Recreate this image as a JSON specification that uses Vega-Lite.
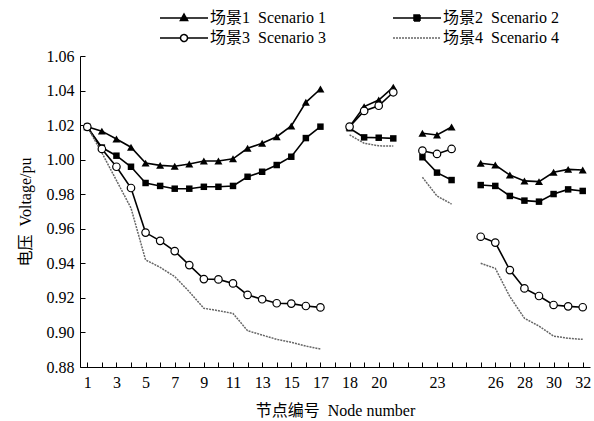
{
  "$schema": "https://vega.github.io/schema/vega-lite/v6.json",
  "width": 510,
  "height": 311,
  "autosize": {"type": "none"},
  "padding": {"left": 80, "top": 56, "right": 4, "bottom": 54},
  "background": "white",
  "config": {
    "view": {"stroke": null},
    "font": "Liberation Serif, DejaVu Serif, Noto Sans CJK SC, serif",
    "axis": {
      "grid": false,
      "domainColor": "black",
      "domainWidth": 1,
      "tickColor": "black",
      "tickWidth": 1,
      "tickSize": -5,
      "labelFont": "Liberation Serif, DejaVu Serif, Noto Sans CJK SC, serif",
      "labelFontSize": 16,
      "labelColor": "black",
      "labelOverlap": false,
      "titleFont": "Liberation Serif, DejaVu Serif, Noto Sans CJK SC, serif",
      "titleFontSize": 16,
      "titleFontWeight": "normal",
      "titleColor": "black"
    }
  },
  "data": {
    "values": [
      {"s": 1, "n": "1", "b": 1, "v": 1.019},
      {"s": 1, "n": "2", "b": 1, "v": 1.0165},
      {"s": 1, "n": "3", "b": 1, "v": 1.012},
      {"s": 1, "n": "4", "b": 1, "v": 1.0072},
      {"s": 1, "n": "5", "b": 1, "v": 0.998},
      {"s": 1, "n": "6", "b": 1, "v": 0.9967},
      {"s": 1, "n": "7", "b": 1, "v": 0.9962},
      {"s": 1, "n": "8", "b": 1, "v": 0.9975},
      {"s": 1, "n": "9", "b": 1, "v": 0.9992},
      {"s": 1, "n": "10", "b": 1, "v": 0.9992},
      {"s": 1, "n": "11", "b": 1, "v": 1.0005},
      {"s": 1, "n": "12", "b": 1, "v": 1.0066},
      {"s": 1, "n": "13", "b": 1, "v": 1.0095},
      {"s": 1, "n": "14", "b": 1, "v": 1.0133},
      {"s": 1, "n": "15", "b": 1, "v": 1.0195},
      {"s": 1, "n": "16", "b": 1, "v": 1.0332},
      {"s": 1, "n": "17", "b": 1, "v": 1.0409},
      {"s": 1, "n": "18", "b": 2, "v": 1.019},
      {"s": 1, "n": "19", "b": 2, "v": 1.0307},
      {"s": 1, "n": "20", "b": 2, "v": 1.0345},
      {"s": 1, "n": "21", "b": 2, "v": 1.042},
      {"s": 1, "n": "22", "b": 3, "v": 1.0153},
      {"s": 1, "n": "23", "b": 3, "v": 1.0143},
      {"s": 1, "n": "24", "b": 3, "v": 1.0189},
      {"s": 1, "n": "25", "b": 4, "v": 0.9979},
      {"s": 1, "n": "26", "b": 4, "v": 0.9969},
      {"s": 1, "n": "27", "b": 4, "v": 0.9911},
      {"s": 1, "n": "28", "b": 4, "v": 0.9877},
      {"s": 1, "n": "29", "b": 4, "v": 0.9873},
      {"s": 1, "n": "30", "b": 4, "v": 0.9927},
      {"s": 1, "n": "31", "b": 4, "v": 0.9944},
      {"s": 1, "n": "32", "b": 4, "v": 0.994},
      {"s": 2, "n": "1", "b": 1, "v": 1.019},
      {"s": 2, "n": "2", "b": 1, "v": 1.007},
      {"s": 2, "n": "3", "b": 1, "v": 1.0023},
      {"s": 2, "n": "4", "b": 1, "v": 0.9959},
      {"s": 2, "n": "5", "b": 1, "v": 0.9865},
      {"s": 2, "n": "6", "b": 1, "v": 0.9848},
      {"s": 2, "n": "7", "b": 1, "v": 0.9832},
      {"s": 2, "n": "8", "b": 1, "v": 0.9832},
      {"s": 2, "n": "9", "b": 1, "v": 0.9843},
      {"s": 2, "n": "10", "b": 1, "v": 0.9843},
      {"s": 2, "n": "11", "b": 1, "v": 0.9848},
      {"s": 2, "n": "12", "b": 1, "v": 0.9901},
      {"s": 2, "n": "13", "b": 1, "v": 0.993},
      {"s": 2, "n": "14", "b": 1, "v": 0.9969},
      {"s": 2, "n": "15", "b": 1, "v": 1.0017},
      {"s": 2, "n": "16", "b": 1, "v": 1.0125},
      {"s": 2, "n": "17", "b": 1, "v": 1.0191},
      {"s": 2, "n": "18", "b": 2, "v": 1.0182},
      {"s": 2, "n": "19", "b": 2, "v": 1.0129},
      {"s": 2, "n": "20", "b": 2, "v": 1.0127},
      {"s": 2, "n": "21", "b": 2, "v": 1.0123},
      {"s": 2, "n": "22", "b": 3, "v": 1.0014},
      {"s": 2, "n": "23", "b": 3, "v": 0.9925},
      {"s": 2, "n": "24", "b": 3, "v": 0.9882},
      {"s": 2, "n": "25", "b": 4, "v": 0.9853},
      {"s": 2, "n": "26", "b": 4, "v": 0.9848},
      {"s": 2, "n": "27", "b": 4, "v": 0.979},
      {"s": 2, "n": "28", "b": 4, "v": 0.9763},
      {"s": 2, "n": "29", "b": 4, "v": 0.9757},
      {"s": 2, "n": "30", "b": 4, "v": 0.9801},
      {"s": 2, "n": "31", "b": 4, "v": 0.9828},
      {"s": 2, "n": "32", "b": 4, "v": 0.9819},
      {"s": 3, "n": "1", "b": 1, "v": 1.019},
      {"s": 3, "n": "2", "b": 1, "v": 1.0062},
      {"s": 3, "n": "3", "b": 1, "v": 0.9959},
      {"s": 3, "n": "4", "b": 1, "v": 0.9836},
      {"s": 3, "n": "5", "b": 1, "v": 0.9578},
      {"s": 3, "n": "6", "b": 1, "v": 0.953},
      {"s": 3, "n": "7", "b": 1, "v": 0.9471},
      {"s": 3, "n": "8", "b": 1, "v": 0.939},
      {"s": 3, "n": "9", "b": 1, "v": 0.9309},
      {"s": 3, "n": "10", "b": 1, "v": 0.9307},
      {"s": 3, "n": "11", "b": 1, "v": 0.9284},
      {"s": 3, "n": "12", "b": 1, "v": 0.9217},
      {"s": 3, "n": "13", "b": 1, "v": 0.9192},
      {"s": 3, "n": "14", "b": 1, "v": 0.9169},
      {"s": 3, "n": "15", "b": 1, "v": 0.9167},
      {"s": 3, "n": "16", "b": 1, "v": 0.9153},
      {"s": 3, "n": "17", "b": 1, "v": 0.9145},
      {"s": 3, "n": "18", "b": 2, "v": 1.0191},
      {"s": 3, "n": "19", "b": 2, "v": 1.0282},
      {"s": 3, "n": "20", "b": 2, "v": 1.0312},
      {"s": 3, "n": "21", "b": 2, "v": 1.039},
      {"s": 3, "n": "22", "b": 3, "v": 1.0052},
      {"s": 3, "n": "23", "b": 3, "v": 1.0033},
      {"s": 3, "n": "24", "b": 3, "v": 1.0062},
      {"s": 3, "n": "25", "b": 4, "v": 0.9554},
      {"s": 3, "n": "26", "b": 4, "v": 0.952},
      {"s": 3, "n": "27", "b": 4, "v": 0.9361},
      {"s": 3, "n": "28", "b": 4, "v": 0.9255},
      {"s": 3, "n": "29", "b": 4, "v": 0.9211},
      {"s": 3, "n": "30", "b": 4, "v": 0.9159},
      {"s": 3, "n": "31", "b": 4, "v": 0.9151},
      {"s": 3, "n": "32", "b": 4, "v": 0.9146},
      {"s": 4, "n": "1", "b": 1, "v": 1.019},
      {"s": 4, "n": "2", "b": 1, "v": 1.004},
      {"s": 4, "n": "3", "b": 1, "v": 0.988},
      {"s": 4, "n": "4", "b": 1, "v": 0.972},
      {"s": 4, "n": "5", "b": 1, "v": 0.942},
      {"s": 4, "n": "6", "b": 1, "v": 0.9377},
      {"s": 4, "n": "7", "b": 1, "v": 0.9323},
      {"s": 4, "n": "8", "b": 1, "v": 0.9236},
      {"s": 4, "n": "9", "b": 1, "v": 0.914},
      {"s": 4, "n": "10", "b": 1, "v": 0.9126},
      {"s": 4, "n": "11", "b": 1, "v": 0.911},
      {"s": 4, "n": "12", "b": 1, "v": 0.901},
      {"s": 4, "n": "13", "b": 1, "v": 0.8985},
      {"s": 4, "n": "14", "b": 1, "v": 0.896},
      {"s": 4, "n": "15", "b": 1, "v": 0.8943},
      {"s": 4, "n": "16", "b": 1, "v": 0.8921},
      {"s": 4, "n": "17", "b": 1, "v": 0.8904},
      {"s": 4, "n": "18", "b": 2, "v": 1.0143},
      {"s": 4, "n": "19", "b": 2, "v": 1.0095},
      {"s": 4, "n": "20", "b": 2, "v": 1.008},
      {"s": 4, "n": "21", "b": 2, "v": 1.0079},
      {"s": 4, "n": "22", "b": 3, "v": 0.9898},
      {"s": 4, "n": "23", "b": 3, "v": 0.979},
      {"s": 4, "n": "24", "b": 3, "v": 0.9743},
      {"s": 4, "n": "25", "b": 4, "v": 0.94},
      {"s": 4, "n": "26", "b": 4, "v": 0.9371},
      {"s": 4, "n": "27", "b": 4, "v": 0.9207},
      {"s": 4, "n": "28", "b": 4, "v": 0.9082},
      {"s": 4, "n": "29", "b": 4, "v": 0.9037},
      {"s": 4, "n": "30", "b": 4, "v": 0.8979},
      {"s": 4, "n": "31", "b": 4, "v": 0.8966},
      {"s": 4, "n": "32", "b": 4, "v": 0.896}
    ]
  },
  "encoding": {
    "x": {
      "field": "n",
      "type": "ordinal",
      "scale": {
        "type": "point",
        "padding": 0.5,
        "domain": ["1","2","3","4","5","6","7","8","9","10","11","12","13","14","15","16","17","g1","18","19","20","21","g2","22","23","24","g3","25","26","27","28","29","30","31","32"]
      },
      "axis": {
        "labelAngle": 0,
        "labelPadding": 12,
        "titlePadding": 12,
        "labelExpr": "indexof(['1','3','5','7','9','11','13','15','17','18','20','23','26','28','30','32'], datum.value) >= 0 ? datum.value : ''"
      },
      "title": "节点编号\u00a0\u00a0Node number"
    },
    "y": {
      "field": "v",
      "type": "quantitative",
      "scale": {"domain": [0.88, 1.06], "zero": false, "nice": false},
      "axis": {
        "values": [0.88, 0.90, 0.92, 0.94, 0.96, 0.98, 1.00, 1.02, 1.04, 1.06],
        "format": ".2f",
        "labelPadding": 11,
        "titlePadding": 13
      },
      "title": "电压\u00a0\u00a0Voltage/pu"
    }
  },
  "layer": [
    {
      "transform": [{"filter": "datum.s != 4"}],
      "mark": {"type": "line", "color": "black", "strokeWidth": 1.6},
      "encoding": {
        "detail": [{"field": "s", "type": "nominal"}, {"field": "b", "type": "nominal"}],
        "order": {"value": null}
      }
    },
    {
      "transform": [{"filter": "datum.s == 4"}],
      "mark": {"type": "line", "color": "#666666", "strokeWidth": 1.5, "strokeDash": [2, 1]},
      "encoding": {
        "detail": {"field": "b", "type": "nominal"},
        "order": {"value": null}
      }
    },
    {
      "transform": [{"filter": "datum.s == 1"}],
      "mark": {"type": "point", "shape": "triangle-up", "filled": true, "color": "black", "size": 64, "opacity": 1}
    },
    {
      "transform": [{"filter": "datum.s == 2"}],
      "mark": {"type": "point", "shape": "square", "filled": true, "color": "black", "size": 42, "opacity": 1}
    },
    {
      "transform": [{"filter": "datum.s == 3"}],
      "mark": {"type": "point", "shape": "circle", "fill": "white", "stroke": "black", "strokeWidth": 1.2, "size": 56, "opacity": 1}
    },
    {
      "transform": [{"filter": "datum.v < 0"}],
      "mark": {"type": "point", "filled": true, "size": 64, "opacity": 1, "strokeWidth": 1.5},
      "encoding": {
        "shape": {
          "field": "s", "type": "nominal",
          "scale": {"domain": [1, 2, 3, 4], "range": [
            "M-6,0H6M0,-1L0.9,0.6H-0.9Z",
            "M-6,0H6M-0.75,-0.75H0.75V0.75H-0.75Z",
            "M-6,0H-0.875M0.875,0H6M-0.875,0A0.875,0.875,0,1,0,0.875,0A0.875,0.875,0,1,0,-0.875,0Z",
            "M-6,0H6"
          ]},
          "legend": {"title": null, "orient": "none", "direction": "horizontal", "legendX": 77, "legendY": -46, "columns": 2, "columnPadding": 64, "rowPadding": 4, "symbolSize": 64, "symbolStrokeWidth": 1.5, "symbolOffset": 19, "labelOffset": 18, "labelFont": "Liberation Serif, DejaVu Serif, Noto Sans CJK SC, serif", "labelFontSize": 16, "labelColor": "black", "labelExpr": "'场景' + datum.value + '\u00a0\u00a0Scenario ' + datum.value"}
        },
        "fill": {
          "field": "s", "type": "nominal",
          "scale": {"domain": [1, 2, 3, 4], "range": ["black", "black", "white", "transparent"]},
          "legend": {"title": null, "orient": "none", "direction": "horizontal", "legendX": 77, "legendY": -46, "columns": 2, "columnPadding": 64, "rowPadding": 4, "symbolSize": 64, "symbolStrokeWidth": 1.5, "symbolOffset": 19, "labelOffset": 18, "labelFont": "Liberation Serif, DejaVu Serif, Noto Sans CJK SC, serif", "labelFontSize": 16, "labelColor": "black", "labelExpr": "'场景' + datum.value + '\u00a0\u00a0Scenario ' + datum.value"}
        },
        "stroke": {
          "field": "s", "type": "nominal",
          "scale": {"domain": [1, 2, 3, 4], "range": ["black", "black", "black", "#666666"]},
          "legend": {"title": null, "orient": "none", "direction": "horizontal", "legendX": 77, "legendY": -46, "columns": 2, "columnPadding": 64, "rowPadding": 4, "symbolSize": 64, "symbolStrokeWidth": 1.5, "symbolOffset": 19, "labelOffset": 18, "labelFont": "Liberation Serif, DejaVu Serif, Noto Sans CJK SC, serif", "labelFontSize": 16, "labelColor": "black", "labelExpr": "'场景' + datum.value + '\u00a0\u00a0Scenario ' + datum.value"}
        },
        "strokeDash": {
          "field": "s", "type": "nominal",
          "scale": {"domain": [1, 2, 3, 4], "range": [[1, 0], [1, 0], [1, 0], [2, 1]]},
          "legend": {"title": null, "orient": "none", "direction": "horizontal", "legendX": 77, "legendY": -46, "columns": 2, "columnPadding": 64, "rowPadding": 4, "symbolSize": 64, "symbolStrokeWidth": 1.5, "symbolOffset": 19, "labelOffset": 18, "labelFont": "Liberation Serif, DejaVu Serif, Noto Sans CJK SC, serif", "labelFontSize": 16, "labelColor": "black", "labelExpr": "'场景' + datum.value + '\u00a0\u00a0Scenario ' + datum.value"}
        }
      }
    }
  ]
}
